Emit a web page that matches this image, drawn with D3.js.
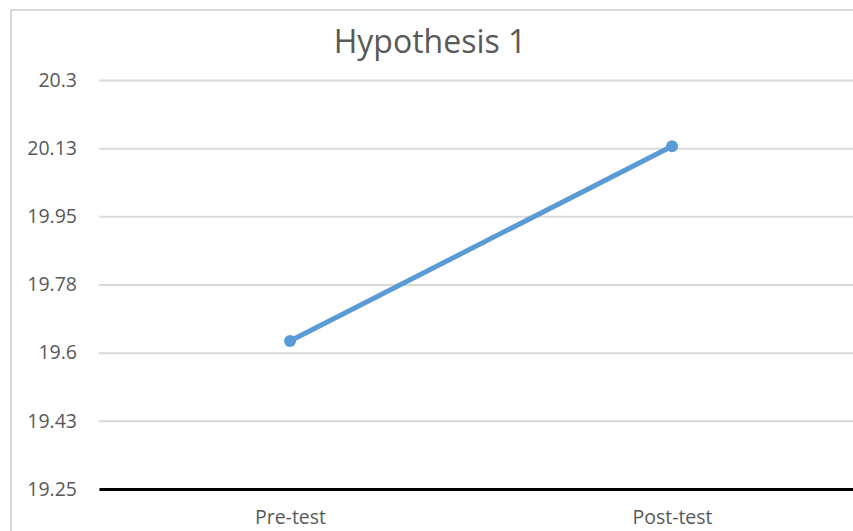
<!DOCTYPE html>
<html>
<head>
<meta charset="utf-8">
<script src="https://cdn.jsdelivr.net/npm/d3@7"></script>
<style>
  html, body { margin: 0; padding: 0; background: #fff; overflow: hidden; }
  svg { display: block; }
</style>
</head>
<body>
<div id="chart"></div>
<script>
// values
const categories = ["Pre-test", "Post-test"];
const scores = [19.63, 20.13];
const yTicks = [19.25, 19.425, 19.6, 19.775, 19.95, 20.125, 20.3];
const yTickLabels = ["19.25", "19.43", "19.6", "19.78", "19.95", "20.13", "20.3"];
const title = "Hypothesis 1";

const width = 853, height = 531;
const margin = {top: 80, right: -10, bottom: 42, left: 99};

const font = "'Open Sans', sans-serif";

const svg = d3.select("#chart").append("svg")
    .attr("width", width)
    .attr("height", height)
    .attr("viewBox", [0, 0, width, height]);

// chart frame (right and bottom edges run past the window)
svg.append("rect")
    .attr("x", 11).attr("y", 10)
    .attr("width", width + 20).attr("height", height + 20)
    .attr("fill", "none")
    .attr("stroke", "#d9d9d9")
    .attr("stroke-width", 2);

const x = d3.scalePoint()
    .domain(categories)
    .range([margin.left, width - margin.right])
    .padding(0.5);

const y = d3.scaleLinear()
    .domain([19.25, 20.3])
    .range([height - margin.bottom, margin.top]);

// y axis: labels + gridlines
svg.append("g")
    .attr("transform", `translate(${margin.left},0)`)
    .call(d3.axisLeft(y).tickValues(yTicks).tickSize(0).tickPadding(22)
        .tickFormat((d, i) => yTickLabels[i]))
    .call(g => g.select(".domain").remove())
    .call(g => g.selectAll(".tick text")
        .attr("fill", "#595959")
        .attr("font-family", font)
        .attr("font-size", 19.5))
    .call(g => g.selectAll(".tick line")
        .clone()
        .attr("x2", width - margin.right - margin.left)
        .attr("stroke", "#d9d9d9")
        .attr("stroke-width", 2));

// x axis
svg.append("g")
    .attr("transform", `translate(0,${height - margin.bottom})`)
    .call(d3.axisBottom(x).tickSize(0).tickPadding(21))
    .call(g => g.select(".domain")
        .attr("stroke", "#000")
        .attr("stroke-width", 3))
    .call(g => g.selectAll(".tick text")
        .attr("fill", "#595959")
        .attr("font-family", font)
        .attr("font-size", 19.5));

const data = categories.map((c, i) => ({cat: c, value: scores[i]}));

svg.append("path")
    .datum(data)
    .attr("fill", "none")
    .attr("stroke", "#5b9bd5")
    .attr("stroke-width", 5)
    .attr("stroke-linecap", "round")
    .attr("d", d3.line().x(d => x(d.cat)).y(d => y(d.value)));

svg.append("g")
    .selectAll("circle")
    .data(data)
    .join("circle")
    .attr("cx", d => x(d.cat))
    .attr("cy", d => y(d.value))
    .attr("r", 6)
    .attr("fill", "#5b9bd5");

svg.append("text")
    .attr("x", 430)
    .attr("y", 53)
    .attr("text-anchor", "middle")
    .attr("fill", "#595959")
    .attr("font-family", font)
    .attr("font-size", 32)
    .text(title);
</script>
</body>
</html>
